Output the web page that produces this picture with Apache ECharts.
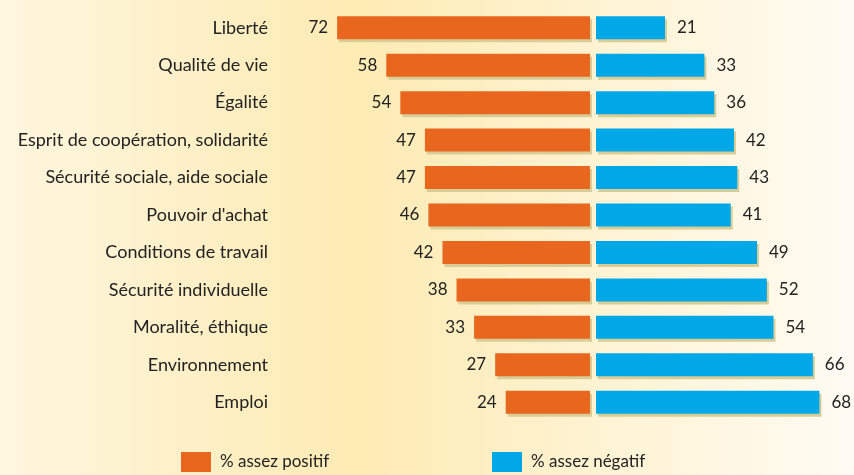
<!DOCTYPE html>
<html>
<head>
<meta charset="utf-8">
<script src="https://cdn.jsdelivr.net/npm/echarts@6/dist/echarts.min.js"></script>
<style>html,body{margin:0;padding:0}#c{width:854px;height:475px}</style>
</head>
<body>
<div id="c"></div>
<script>
const categories = ["Liberté","Qualité de vie","Égalité","Esprit de coopération, solidarité","Sécurité sociale, aide sociale","Pouvoir d'achat","Conditions de travail","Sécurité individuelle","Moralité, éthique","Environnement","Emploi"];
const positif = [72,58,54,47,47,46,42,38,33,27,24];
const negatif = [21,33,36,42,43,41,49,52,54,66,68];

const chart = echarts.init(document.getElementById("c"));
const font = "Lato";
const shadow = { shadowColor:"#d8cd96", shadowOffsetX:2, shadowOffsetY:3, shadowBlur:0 };
const legendText = { fontSize:17, color:"#222", fontFamily:font, padding:[0,0,0,4] };
chart.setOption({
  backgroundColor:{ type:"linear", x:0, y:0, x2:1, y2:0, colorStops:[
    {offset:0,color:"#fef6de"},{offset:0.42,color:"#fdebb3"},{offset:1,color:"#fffbf3"}]},
  textStyle:{ fontFamily:font },
  legend:[
    { data:["% assez positif"], left:181, top:452, padding:0, itemWidth:30, itemHeight:20, icon:"rect",
      textStyle:legendText },
    { data:["% assez négatif"], left:492, top:452, padding:0, itemWidth:30, itemHeight:20, icon:"rect",
      textStyle:legendText }
  ],
  grid:[
    { left:309, right:264, top:9, height:412 },
    { left:596, right:28, top:9, height:412 }
  ],
  xAxis:[
    { gridIndex:0, type:"value", min:0, max:80, inverse:true, show:false },
    { gridIndex:1, type:"value", min:0, max:70, show:false }
  ],
  yAxis:[
    { gridIndex:0, type:"category", data:categories, inverse:true, position:"left",
      axisLine:{show:false}, axisTick:{show:false},
      axisLabel:{ margin:41, fontSize:18, color:"#222", fontFamily:font } },
    { gridIndex:1, type:"category", data:categories, inverse:true, show:false }
  ],
  series:[
    { name:"% assez positif", type:"bar", xAxisIndex:0, yAxisIndex:0, data:positif, barWidth:23,
      itemStyle:Object.assign({ color:"#e8661e" }, shadow),
      label:{ show:true, position:"left", distance:9, fontSize:17, color:"#222", fontFamily:font } },
    { name:"% assez négatif", type:"bar", xAxisIndex:1, yAxisIndex:1, data:negatif, barWidth:23,
      itemStyle:Object.assign({ color:"#00a8e8" }, shadow),
      label:{ show:true, position:"right", distance:12, fontSize:17, color:"#222", fontFamily:font } }
  ]
});
</script>
</body>
</html>
